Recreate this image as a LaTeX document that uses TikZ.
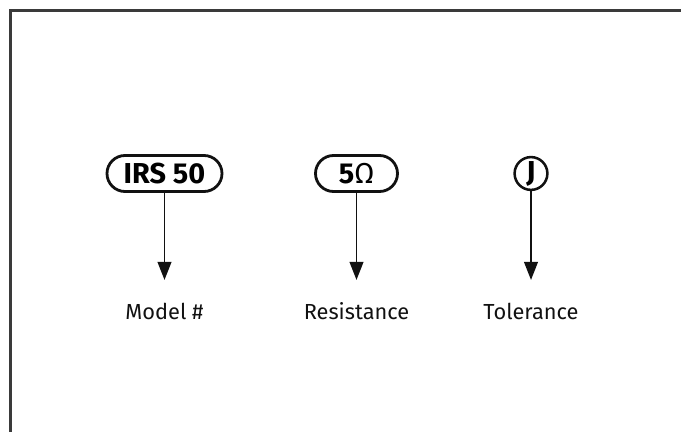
\documentclass[tikz,border=0pt]{standalone}
\usepackage{fontspec}
\setmainfont{Fira Sans}
\usepackage{tikz}
\usetikzlibrary{arrows.meta,positioning,shapes.misc}
\definecolor{ink}{HTML}{111111}
\definecolor{frame}{HTML}{3A3A3A}
\tikzset{
  pill/.style={draw=ink,rounded rectangle,line width=2pt,inner sep=0pt,
               minimum height=0.9cm,font=\fontsize{20.5}{22}\selectfont\bfseries},
  dot/.style={draw=ink,circle,line width=1.8pt,inner sep=0pt,
              minimum size=0.82cm,font=\fontsize{20.5}{22}\selectfont\bfseries},
  lbl/.style={font=\fontsize{15.5}{17}\selectfont,ink,anchor=base},
  arrowdown/.style={-{Triangle[length=0.45cm,width=0.34cm]},line width=1.4pt,ink},
}
\begin{document}
\begin{tikzpicture}
  \useasboundingbox(0,0)rectangle(17.025,10.8);
  \draw[frame,line width=1.6pt](0.2625,0)--(0.2625,10.5375)--(17.025,10.5375);
  % part code fields
  \node[pill,minimum width=2.875cm](model)at(4.1125,6.4625){IRS 50};
  \node[pill,minimum width=2.05cm](res)at(8.9125,6.4625){5{\mdseries Ω}};
  \node[dot](tol)at(13.275,6.4625){J};
  % what each field means
  \coordinate(modelend)at(4.1125,3.8);
  \coordinate(resend)at(8.9125,3.8);
  \coordinate(tolend)at(13.275,3.8);
  \draw[arrowdown](model.south)--(modelend);
  \draw[arrowdown](res.south)--(resend);
  \draw[arrowdown](tol.south)--(tolend);
  \node[lbl](modellbl)at(4.1125,2.8){Model \#};
  \node[lbl](reslbl)at(8.9125,2.8){Resistance};
  \node[lbl](tollbl)at(13.275,2.8){Tolerance};
\end{tikzpicture}
\end{document}
